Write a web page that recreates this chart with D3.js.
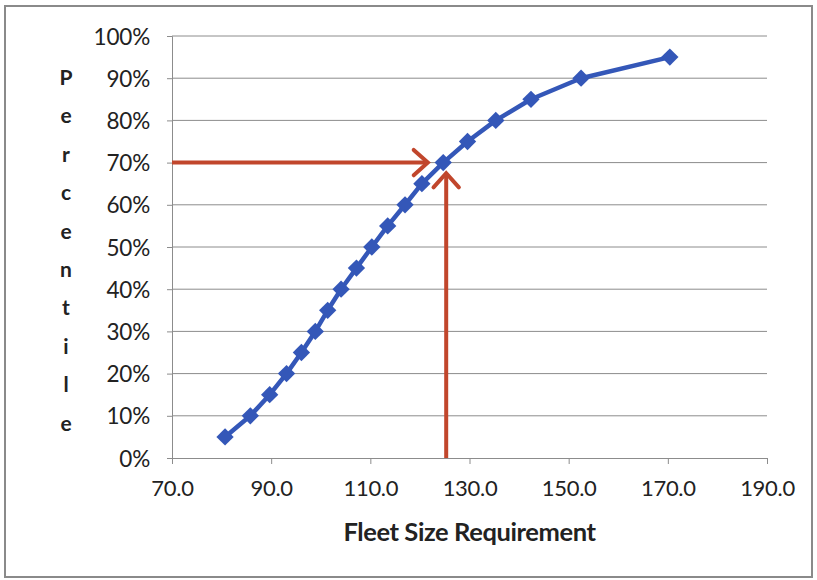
<!DOCTYPE html>
<html>
<head>
<meta charset="utf-8">
<script src="https://cdn.jsdelivr.net/npm/d3@7"></script>
<style>
  html, body { margin: 0; padding: 0; background: #fff; }
  svg { display: block; }
  text { font-family: Lato, "Open Sans", sans-serif; fill: #222; }
</style>
</head>
<body>
<svg id="chart" width="817" height="580"></svg>
<script>
// Cumulative fleet size distribution
const fleetSize = [80.7, 85.8, 89.7, 93.1, 96.1, 98.9, 101.4, 104.1, 107.2, 110.3,
                   113.5, 117.0, 120.4, 124.7, 129.6, 135.3, 142.4, 152.5, 170.4];
const percentile = [0.05, 0.10, 0.15, 0.20, 0.25, 0.30, 0.35, 0.40, 0.45, 0.50,
                    0.55, 0.60, 0.65, 0.70, 0.75, 0.80, 0.85, 0.90, 0.95];
const xTicks = [70, 90, 110, 130, 150, 170, 190];
const yTicks = [0, 0.1, 0.2, 0.3, 0.4, 0.5, 0.6, 0.7, 0.8, 0.9, 1.0];
// Reading guide: 70th percentile -> fleet size of about 125
const guidePercentile = 0.70;
const guideFleet = 125.3;
const guideArrowEndX = 121.6;
const guideArrowEndY = 0.675;

const yTitle = "Percentile";
const xTitle = "Fleet Size Requirement";

const svg = d3.select("#chart");
const W = 817, H = 580;

// outer chart frame
svg.append("rect")
  .attr("x", 5).attr("y", 6).attr("width", W - 10).attr("height", H - 9)
  .attr("fill", "#fff").attr("stroke", "#8a8a8a").attr("stroke-width", 2);

const plot = { left: 172, right: 767, top: 36, bottom: 458 };
const x = d3.scaleLinear().domain([70, 190]).range([plot.left, plot.right]);
const y = d3.scaleLinear().domain([0, 1]).range([plot.bottom, plot.top]);

// horizontal gridlines
svg.append("g")
  .selectAll("line").data(yTicks.slice(1)).join("line")
  .attr("x1", plot.left).attr("x2", plot.right)
  .attr("y1", d => y(d)).attr("y2", d => y(d))
  .attr("stroke", "#8c8c8c").attr("stroke-width", 1);

// y axis
const yAxis = svg.append("g")
  .attr("transform", `translate(${plot.left},0)`)
  .call(d3.axisLeft(y).tickValues(yTicks).tickFormat(d3.format(".0%")).tickSize(5).tickPadding(17));
yAxis.select(".domain").attr("stroke", "#8c8c8c");
yAxis.selectAll(".tick line").attr("stroke", "#8c8c8c");
yAxis.selectAll(".tick text")
  .style("font-family", "Lato, sans-serif").style("font-size", "22.5px")
  .attr("fill", "#222").attr("dy", "0.36em").attr("letter-spacing", "-0.2");

// x axis
const xAxis = svg.append("g")
  .attr("transform", `translate(0,${plot.bottom})`)
  .call(d3.axisBottom(x).tickValues(xTicks).tickFormat(d3.format(".1f")).tickSize(6).tickPadding(16));
xAxis.select(".domain").attr("stroke", "#8c8c8c");
xAxis.selectAll(".tick line").attr("stroke", "#8c8c8c");
xAxis.selectAll(".tick text")
  .style("font-family", "Lato, sans-serif").style("font-size", "22px")
  .attr("fill", "#222").attr("letter-spacing", "-0.3");

// stacked vertical y title
svg.append("g").selectAll("text")
  .data(yTitle.split(""))
  .join("text")
  .attr("x", 66)
  .attr("y", (d, i) => 85 + i * 38.4)
  .attr("text-anchor", "middle")
  .style("font-size", "21px").style("font-weight", "bold")
  .text(d => d);

// x title
svg.append("text")
  .attr("x", (plot.left + plot.right) / 2)
  .attr("y", 541)
  .attr("text-anchor", "middle")
  .style("font-size", "25.5px").style("font-weight", "bold")
  .attr("letter-spacing", "-0.4")
  .text(xTitle);

// series line
const pts = fleetSize.map((v, i) => [v, percentile[i]]);
svg.append("path")
  .datum(pts)
  .attr("fill", "none")
  .attr("stroke", "#3457b8")
  .attr("stroke-width", 4.5)
  .attr("stroke-linejoin", "round")
  .attr("d", d3.line().x(d => x(d[0])).y(d => y(d[1])));

// diamond markers
svg.append("g").selectAll("path")
  .data(pts).join("path")
  .attr("transform", d => `translate(${x(d[0])},${y(d[1])}) rotate(45)`)
  .attr("d", d3.symbol().type(d3.symbolSquare).size(150))
  .attr("fill", "#3457b8");

// reading-guide arrows
const red = "#c1462c";
function arrow(x1, y1, x2, y2) {
  const g = svg.append("g")
    .attr("stroke", red).attr("stroke-width", 4).attr("fill", "none")
    .attr("stroke-linecap", "butt").attr("stroke-linejoin", "miter");
  g.append("line").attr("x1", x1).attr("y1", y1).attr("x2", x2).attr("y2", y2);
  const ang = Math.atan2(y2 - y1, x2 - x1);
  const len = 19, spread = Math.PI / 4.3;
  const a1 = ang + Math.PI - spread, a2 = ang + Math.PI + spread;
  g.append("path")
    .attr("stroke-linecap", "round")
    .attr("d", `M${x2 + len * Math.cos(a1)},${y2 + len * Math.sin(a1)} L${x2},${y2} L${x2 + len * Math.cos(a2)},${y2 + len * Math.sin(a2)}`);
}
arrow(x(70), y(guidePercentile), x(guideArrowEndX), y(guidePercentile));
arrow(x(guideFleet), y(0), x(guideFleet), y(guideArrowEndY));
</script>
</body>
</html>
